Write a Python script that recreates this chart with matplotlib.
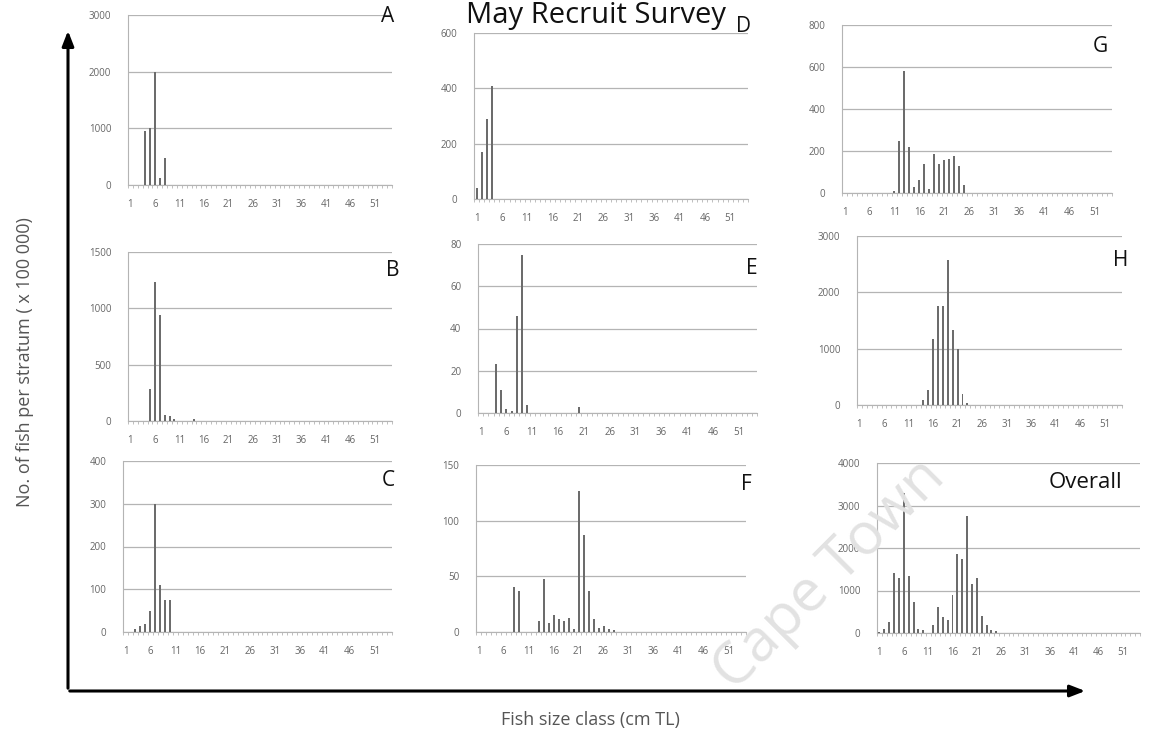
import matplotlib
matplotlib.use('Agg')
import matplotlib.pyplot as plt
import numpy as np

W, H = 1156, 740

# ── DATA (size class -> no. of fish per stratum, x 100 000) ─────────────────
size_classes = np.arange(1, 55)
tick_classes = [1, 6, 11, 16, 21, 26, 31, 36, 41, 46, 51]

a_cls = [4, 5, 6, 7, 8]
a_val = [950, 1000, 2000, 120, 480]

b_cls = [5, 6, 7, 8, 9, 10, 14]
b_val = [280, 1230, 940, 50, 40, 20, 15]

c_cls = [3, 4, 5, 6, 7, 8, 9, 10]
c_val = [8, 15, 18, 50, 300, 110, 75, 75]

d_cls = [1, 2, 3, 4]
d_val = [40, 170, 290, 410]

e_cls = [4, 5, 6, 7, 8, 9, 10, 20]
e_val = [23, 11, 2, 1, 46, 75, 4, 3]

f_cls = [8, 9, 13, 14, 15, 16, 17, 18, 19, 20, 21, 22, 23, 24, 25, 26, 27, 28]
f_val = [40, 37, 10, 48, 8, 15, 12, 10, 13, 3, 127, 87, 37, 12, 4, 5, 3, 2]

g_cls = [11, 12, 13, 14, 15, 16, 17, 18, 19, 20, 21, 22, 23, 24, 25]
g_val = [10, 250, 580, 220, 30, 60, 140, 20, 185, 140, 155, 160, 175, 130, 40]

h_cls = [14, 15, 16, 17, 18, 19, 20, 21, 22, 23]
h_val = [80, 265, 1180, 1760, 1760, 2580, 1340, 1000, 200, 30]

o_cls = [1, 2, 3, 4, 5, 6, 7, 8, 9, 10, 12, 13, 14, 15, 16, 17, 18, 19, 20, 21, 22, 23, 24, 25]
o_val = [20, 100, 250, 1420, 1300, 3300, 1350, 720, 100, 60, 200, 620, 380, 300, 900,
         1850, 1750, 2750, 1150, 1300, 400, 200, 60, 40]

# ── STYLE ───────────────────────────────────────────────────────────────────
C_BAR  = "#6c6c6c"
C_GRID = "#b4b4b4"
C_TICK = "#666666"
C_LBL  = "#555555"

plt.rcParams.update({"font.family": ["Open Sans", "DejaVu Sans"]})

fig = plt.figure(figsize=(W / 100, H / 100), dpi=100)
fig.patch.set_facecolor("white")


def px_axes(left, right, top, bottom):
    return fig.add_axes([left / W, 1 - bottom / H, (right - left) / W, (bottom - top) / H])


def panel(box, cls, val, ymax, ystep, letter, lpos, lsize=15):
    ax = px_axes(*box)
    ax.set_facecolor("none")
    full = np.zeros(len(size_classes))
    for c, v in zip(cls, val):
        full[c - 1] = v
    ax.bar(size_classes, full, width=0.4, color=C_BAR, edgecolor="none", zorder=3)
    ax.set_xlim(0.5, 54.5)
    ax.set_ylim(0, ymax)
    ax.set_yticks(np.arange(0, ymax + 1, ystep))
    ax.yaxis.grid(True, color=C_GRID, lw=0.9, zorder=0)
    ax.set_xticks(tick_classes)
    ax.set_xticks(np.arange(0.5, 55, 1), minor=True)
    ax.tick_params(axis="x", which="major", length=0, pad=10, labelsize=7, labelcolor=C_TICK)
    ax.tick_params(axis="x", which="minor", length=2.5, color=C_GRID, direction="out")
    ax.tick_params(axis="y", length=0, pad=12, labelsize=7, labelcolor=C_TICK)
    for s in ("top", "right"):
        ax.spines[s].set_visible(False)
    ax.spines["left"].set_color(C_GRID)
    ax.spines["bottom"].set_color(C_GRID)
    fig.text(lpos[0] / W, 1 - lpos[1] / H, letter, fontsize=lsize, color="#111111",
             ha="center", va="center")
    return ax


# column 1
panel((128, 392, 15, 185), a_cls, a_val, 3000, 1000, "A", (388, 17))
panel((128, 392, 252, 421), b_cls, b_val, 1500, 500, "B", (393, 270))
panel((123, 392, 461, 632), c_cls, c_val, 400, 100, "C", (388, 481))
# column 2
panel((474, 748, 33, 199), d_cls, d_val, 600, 200, "D", (744, 27))
panel((478, 757, 244, 413), e_cls, e_val, 80, 20, "E", (752, 268))
panel((476, 746, 465, 632), f_cls, f_val, 150, 50, "F", (746, 485))
# column 3
panel((842, 1112, 25, 193), g_cls, g_val, 800, 200, "G", (1100, 46))
panel((857, 1122, 236, 405), h_cls, h_val, 3000, 1000, "H", (1121, 260))
panel((877, 1140, 463, 633), o_cls, o_val, 4000, 1000, "Overall", (1085, 483), lsize=16)

# ── Outer arrows, labels, title ─────────────────────────────────────────────
ov = fig.add_axes([0, 0, 1, 1])
ov.set_xlim(0, W)
ov.set_ylim(H, 0)
ov.axis("off")
ov.set_facecolor("none")
ov.annotate("", xy=(68, 28), xytext=(68, 691),
            arrowprops=dict(arrowstyle="-|>,head_length=0.9,head_width=0.35", lw=2.2, color="black"))
ov.annotate("", xy=(1088, 691), xytext=(67, 691),
            arrowprops=dict(arrowstyle="-|>,head_length=0.9,head_width=0.35", lw=2.2, color="black"))

ov.text(25, 362, "No. of fish per stratum ( x 100 000)", rotation=90, fontsize=13,
        color=C_LBL, ha="center", va="center")
ov.text(590, 720, "Fish size class (cm TL)", fontsize=13, color=C_LBL,
        ha="center", va="center")
ov.text(596, 23, "May Recruit Survey", fontsize=21, color="#111111",
        ha="center", va="baseline")

# watermark
ov.text(830, 575, "Cape Town", rotation=45, fontsize=42, color="#e2e2e2",
        ha="center", va="center", zorder=0)

fig.savefig("out.png", dpi=100, facecolor="white")
